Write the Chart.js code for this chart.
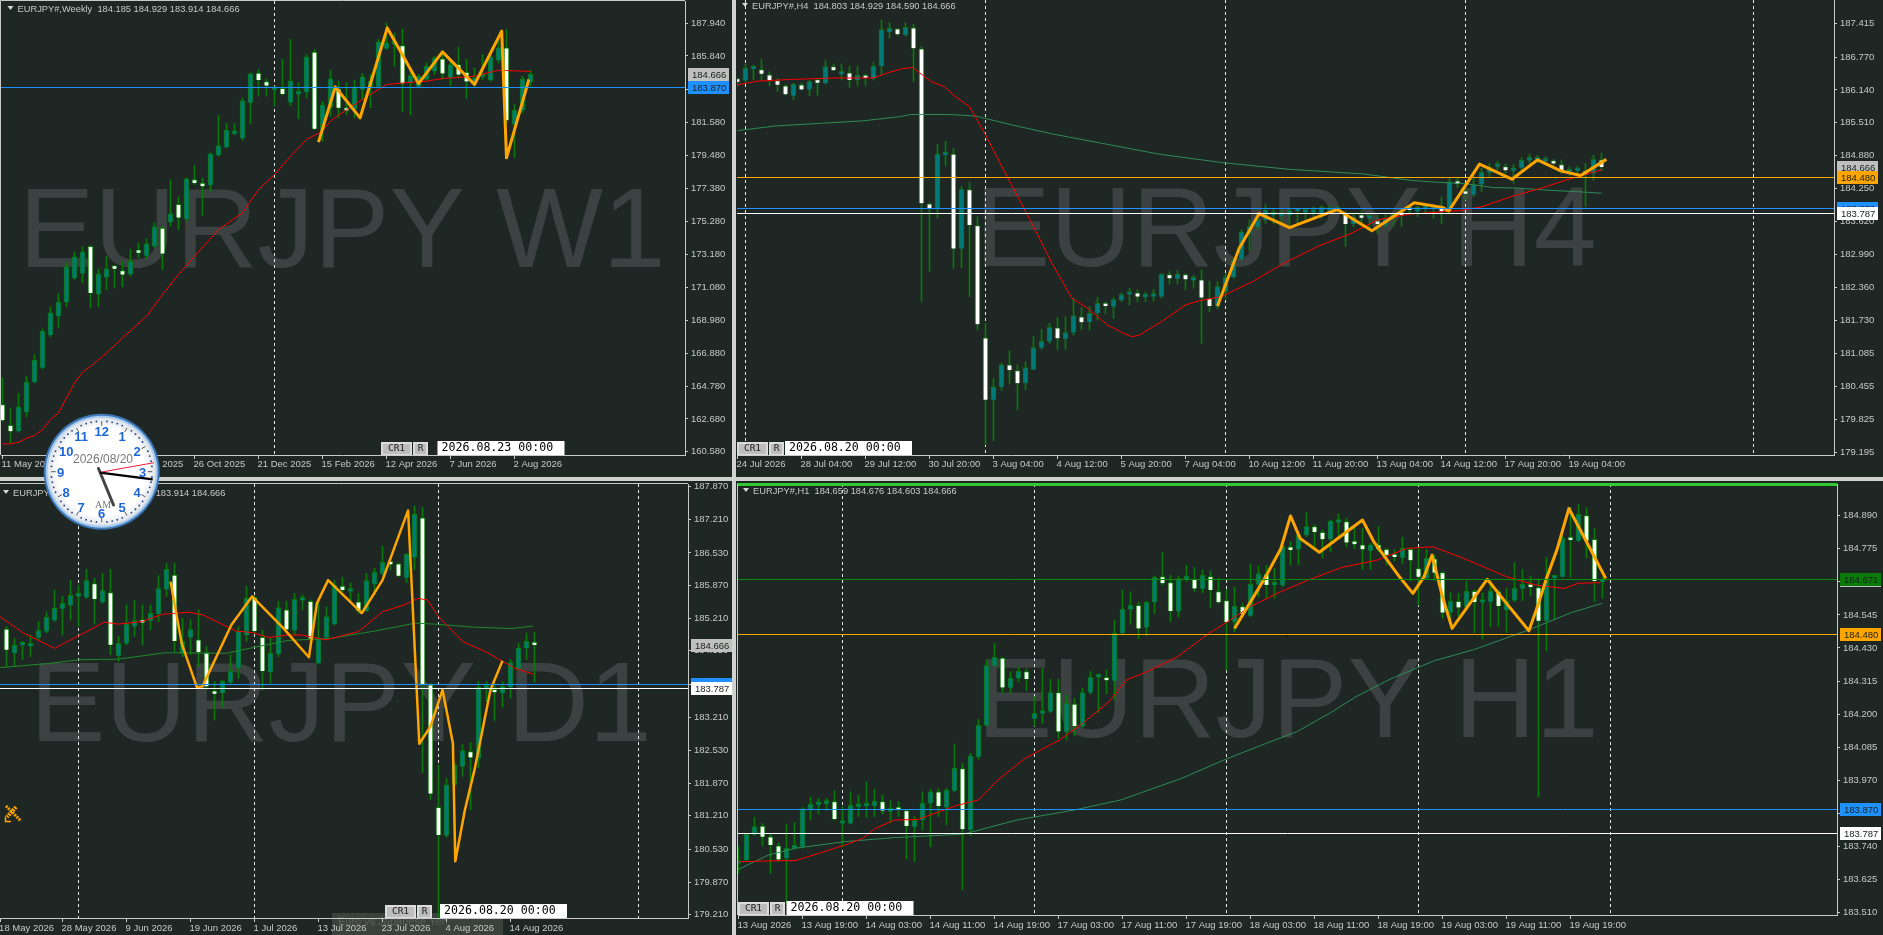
<!DOCTYPE html>
<html>
<head>
<meta charset="utf-8">
<title>EURJPY</title>
<style>
  html, body { margin: 0; padding: 0; background: #1f2724; overflow: hidden; }
  body { width: 1883px; height: 935px; position: relative; }
  canvas { position: absolute; display: block; }
  .band { position: absolute; background: #cfd2cf; }
  #clock { position: absolute; left: 0; top: 0; pointer-events: none; }
</style>
<script src="https://cdn.jsdelivr.net/npm/chart.js@4"></script>
</head>
<body>
<div class="band" style="left:732px;top:0;width:4px;height:935px"></div>
<div class="band" style="left:0;top:477px;width:1883px;height:4px"></div>
<canvas id="weekly" style="left:0;top:0"></canvas>
<canvas id="h4" style="left:736px;top:0"></canvas>
<canvas id="daily" style="left:0;top:482px"></canvas>
<canvas id="h1" style="left:737px;top:482px"></canvas>
<svg id="clock" width="1883" height="935"></svg>
<script>
// ---- weekly ----
const weeklyOpen = [163.60,162.28,161.90,163.11,165.04,165.94,168.02,169.23,170.13,171.66,171.96,173.70,170.64,171.72,172.36,172.15,171.91,173.45,173.10,173.70,174.85,175.23,176.38,175.44,177.95,177.59,177.59,179.51,180.02,180.87,180.59,182.85,184.74,184.21,183.68,183.78,182.87,183.40,183.53,186.08,181.14,182.53,183.74,182.51,182.42,183.70,183.80,183.87,186.31,186.57,186.50,184.12,183.87,184.34,184.87,185.65,184.44,185.29,184.80,184.02,184.51,184.29,185.57,186.36,181.46,182.38,184.185];
const weeklyHigh = [165.30,163.38,164.30,165.40,166.79,168.43,169.83,170.68,172.64,173.32,173.66,173.74,172.25,173.06,172.47,172.74,173.49,173.91,174.17,175.19,174.98,177.95,176.85,178.08,178.85,178.06,179.66,182.04,181.53,181.53,183.17,184.76,184.97,184.38,183.87,185.61,186.89,184.12,185.93,186.25,182.95,184.93,184.23,184.12,184.29,184.72,184.65,186.89,187.95,187.31,187.57,185.08,184.65,185.40,185.82,186.14,185.51,186.40,185.61,185.08,185.93,185.93,187.10,187.53,182.74,184.55,184.929];
const weeklyLow = [162.53,161.15,161.85,162.81,164.98,165.87,167.91,168.49,169.83,171.57,171.36,169.77,169.83,170.94,171.04,171.11,171.79,172.96,172.89,173.59,172.21,174.98,174.76,175.30,177.63,175.66,177.21,179.44,179.97,180.83,180.46,181.53,183.27,183.27,182.63,183.34,182.68,181.83,183.17,181.14,180.40,182.00,181.89,182.10,181.89,183.06,182.53,183.80,186.25,185.19,182.31,182.06,183.80,184.23,184.65,184.34,183.95,184.44,183.14,183.91,184.34,184.23,185.40,181.57,179.34,182.21,183.914];
const weeklyClose = [162.60,161.90,163.45,165.04,166.43,168.28,169.45,170.13,172.38,173.02,173.34,170.72,171.94,172.25,172.27,171.89,172.74,173.28,173.85,174.93,173.23,175.76,175.53,178.00,177.74,177.53,179.59,180.12,181.10,180.93,182.97,184.70,184.31,183.95,183.74,183.42,184.25,183.48,185.78,181.19,182.72,184.38,182.53,182.36,183.80,184.51,184.23,186.74,186.68,186.78,184.08,184.59,184.55,185.19,185.72,184.72,185.29,184.65,184.21,184.44,184.65,185.78,186.36,181.74,182.38,184.38,184.666];
const weeklyRedBars = [0,1,2,3,4,5,6,7,8,9,10,11,13,15,18,20,22,24,27,30,32,34,36,38,40,41,43,45,46,48,50,53,55,59,62,63,66];
const weeklyRedValues = [161.09,161.09,161.19,161.45,161.62,162.00,162.64,163.07,164.02,164.98,165.66,166.04,166.89,167.85,169.23,170.62,171.89,173.06,174.76,175.83,177.32,178.27,179.44,180.51,181.04,181.68,182.42,183.06,183.38,184.02,184.12,184.23,184.40,184.55,184.93,184.91,184.85];
const weeklyZigBars = [39.5,41.6,44.7,48.1,52,55,59,62.4,63,65.8];
const weeklyZigValues = [180.34,183.87,181.89,187.63,184.08,186.10,184.02,187.42,179.34,184.34];
const weeklyPriceTicks = [187.94,185.84,183.68,181.58,179.48,177.38,175.28,173.18,171.08,168.98,166.88,164.78,162.68,160.58];
const weeklyTimeBars = [0,8,16,24,32,40,48,56,64];
const weeklyTimeLabels = ["11 May 2025","6 Jul 2025","31 Aug 2025","26 Oct 2025","21 Dec 2025","15 Feb 2026","12 Apr 2026","7 Jun 2026","2 Aug 2026"];
const weeklySeparators = [34];

// ---- H4 ----
const h4Open = [186.33,186.32,186.54,186.53,186.43,186.32,186.22,186.03,186.24,186.15,186.30,186.27,186.59,186.44,186.47,186.33,186.41,186.36,186.60,187.25,187.31,187.20,187.33,186.93,183.96,183.87,184.89,184.91,183.10,184.23,183.54,181.39,180.20,180.45,180.87,180.76,180.52,180.78,181.20,181.32,181.58,181.37,181.49,181.79,181.69,181.86,182.04,181.99,182.11,182.22,182.25,182.17,182.18,182.18,182.60,182.52,182.60,182.49,182.50,182.14,181.99,182.27,182.55,182.89,183.39,183.52,183.65,183.74,183.72,183.74,183.82,183.79,183.79,183.77,183.83,183.84,183.76,183.57,183.72,183.68,183.63,183.55,183.70,183.79,183.87,183.81,183.88,183.85,183.90,183.83,184.39,184.17,184.13,184.33,184.56,184.67,184.67,184.59,184.65,184.79,184.79,184.77,184.77,184.71,184.56,184.59,184.59,184.54,184.803];
const h4High = [186.36,186.64,186.62,186.73,186.49,186.36,186.24,186.27,186.27,186.33,186.33,186.70,186.64,186.64,186.60,186.59,186.45,186.67,187.48,187.43,187.32,187.43,187.40,186.97,183.97,185.10,185.16,185.02,184.29,184.37,183.71,181.67,180.61,180.90,181.14,180.87,180.93,181.42,181.55,181.67,181.78,181.79,182.15,181.97,181.99,182.17,182.08,182.16,182.25,182.34,182.31,182.27,182.32,182.62,182.66,182.68,182.62,182.59,182.69,182.48,182.47,182.62,182.91,183.46,183.65,183.77,183.94,183.87,183.84,183.87,183.87,183.87,183.90,183.92,183.92,183.89,183.81,183.77,183.83,183.77,183.74,183.77,183.77,183.87,183.92,183.92,183.94,183.92,184.09,184.45,184.45,184.35,184.48,184.64,184.73,184.77,184.72,184.72,184.85,184.91,184.89,184.87,184.81,184.80,184.67,184.68,184.73,184.89,184.929];
const h4Low = [186.22,186.27,186.33,186.33,186.22,186.11,186.04,185.96,186.14,186.03,186.04,186.25,186.51,186.33,186.19,186.22,186.22,186.33,186.43,187.13,187.19,187.17,186.30,182.08,182.66,183.68,184.69,182.72,182.73,182.18,181.54,179.34,179.42,180.38,180.50,180.01,180.39,180.77,181.17,181.28,181.16,181.17,181.44,181.55,181.54,181.73,181.85,181.76,182.08,182.02,182.08,182.08,182.09,182.15,182.42,182.42,182.31,182.34,181.28,181.89,181.95,182.15,182.53,182.88,183.06,183.46,183.58,183.58,183.58,183.52,183.58,183.65,183.71,183.68,183.77,183.81,183.14,183.52,183.57,183.46,183.39,183.52,183.53,183.53,183.77,183.71,183.77,183.68,183.58,183.80,184.27,184.03,184.10,184.19,184.47,184.61,184.55,184.35,184.61,184.73,184.75,184.70,184.69,184.54,184.49,184.48,183.90,184.41,184.590];
const h4Close = [186.30,186.56,186.56,186.45,186.33,186.24,186.06,186.25,186.15,186.30,186.28,186.59,186.52,186.48,186.33,186.42,186.37,186.60,187.30,187.32,187.21,187.34,186.94,183.97,183.87,184.91,184.91,183.10,184.24,183.55,181.65,180.20,180.45,180.87,180.77,180.52,180.82,181.20,181.32,181.59,181.38,181.49,181.81,181.69,181.86,182.05,182.00,182.12,182.22,182.26,182.18,182.18,182.19,182.61,182.53,182.61,182.51,182.50,182.16,182.00,182.37,182.55,182.88,183.42,183.52,183.65,183.84,183.76,183.76,183.83,183.84,183.81,183.81,183.89,183.87,183.85,183.57,183.71,183.69,183.70,183.57,183.68,183.71,183.74,183.84,183.89,183.90,183.87,183.81,184.38,184.34,184.15,184.32,184.56,184.66,184.68,184.60,184.65,184.79,184.83,184.83,184.79,184.73,184.59,184.57,184.60,184.53,184.81,184.666];
const h4RedBars = [0,2.5,6.4,12,17,18.6,20.6,21.9,23.1,24.2,25.9,27,29,30.9,33.7,37,39.3,41.8,43.8,46.3,48.2,49.3,50.2,53,56,57.7,60.5,64.4,68.3,72.8,76.7,80,84,90.4,93,96.8,100.5,103.7,108];
const h4RedValues = [186.24,186.31,186.34,186.37,186.37,186.46,186.55,186.57,186.43,186.30,186.20,186.04,185.82,185.31,184.48,183.52,182.82,182.15,181.95,181.63,181.48,181.41,181.44,181.70,182.02,182.10,182.18,182.47,182.82,183.16,183.39,183.65,183.76,183.83,183.90,184.10,184.26,184.42,184.61];
const h4GreenBars = [0,4.7,10.3,15.8,20.3,21.7,26.4,29.8,34.3,39.3,46.5,52.7,60.5,68.9,78.3,84,86.6,91.2,94.5,97.5,101.2,105,108];
const h4GreenValues = [185.36,185.45,185.50,185.55,185.63,185.67,185.67,185.64,185.47,185.30,185.09,184.91,184.75,184.62,184.53,184.41,184.38,184.34,184.27,184.26,184.22,184.19,184.16];
const h4ZigBars = [60,62.7,65.2,69,75,79.3,84.6,88.1,88.9,92.75,96.8,100,102.9,105.4,108.6];
const h4ZigValues = [182.00,183.10,183.77,183.50,183.85,183.44,183.98,183.89,183.82,184.72,184.43,184.80,184.59,184.50,184.81];
const h4PriceTicks = [187.415,186.77,186.14,185.51,184.88,184.25,183.62,182.99,182.36,181.73,181.085,180.455,179.825,179.195];
const h4TimeBars = [0,8,16,24,32,40,48,56,64,72,80,88,96,104];
const h4TimeLabels = ["24 Jul 2026","28 Jul 04:00","29 Jul 12:00","30 Jul 20:00","3 Aug 04:00","4 Aug 12:00","5 Aug 20:00","7 Aug 04:00","10 Aug 12:00","11 Aug 20:00","13 Aug 04:00","14 Aug 12:00","17 Aug 20:00","19 Aug 04:00"];
const h4Separators = [1,31,61,91,127];

// ---- daily ----
const dailyOpen = [184.99,184.50,184.66,184.64,184.82,184.94,185.17,185.40,185.47,185.65,185.63,185.91,185.53,185.73,184.45,184.70,185.04,185.16,185.16,185.30,185.79,186.08,184.50,184.82,184.77,184.51,183.71,183.69,183.91,184.21,184.87,185.63,184.82,184.12,184.48,185.38,184.96,185.57,185.55,184.30,184.82,185.09,185.86,185.75,185.54,185.36,185.90,186.11,186.33,186.31,186.03,186.44,187.24,183.86,181.38,180.81,181.84,182.21,182.51,182.37,183.79,183.75,183.69,183.81,184.19,184.60,184.69];
const dailyHigh = [185.04,184.80,184.74,184.87,185.14,185.34,185.78,185.65,185.98,185.88,186.20,186.02,186.12,186.20,184.84,185.48,185.57,185.48,185.48,186.07,186.32,186.32,185.21,185.18,185.38,184.64,183.93,183.95,184.47,185.04,185.86,185.66,184.97,184.80,185.55,185.55,185.71,185.68,185.58,185.55,185.44,185.98,186.04,185.92,185.71,186.12,186.22,186.67,186.46,186.33,186.52,187.48,187.45,183.89,182.24,181.97,182.28,182.65,182.69,183.93,183.93,183.89,183.93,184.37,184.70,184.91,184.929];
const dailyLow = [184.23,184.25,184.37,184.43,184.77,184.91,185.14,184.87,185.17,185.04,185.61,185.09,185.51,184.47,184.33,184.67,184.84,184.67,184.97,185.14,185.65,184.53,184.43,184.47,184.23,183.76,183.15,183.41,183.86,183.99,184.74,184.91,183.76,183.89,184.43,184.94,184.87,185.38,184.60,184.28,184.80,185.07,185.75,185.55,185.31,185.34,185.68,186.08,186.19,186.05,185.93,186.19,182.09,181.54,179.14,180.78,181.81,182.01,181.33,182.18,183.52,183.14,183.41,183.59,184.16,184.37,183.914];
const dailyClose = [184.57,184.66,184.67,184.70,184.96,185.23,185.41,185.51,185.67,185.68,185.97,185.60,185.77,184.67,184.70,185.09,185.16,185.12,185.31,185.81,186.20,184.75,184.74,184.98,184.52,183.83,183.68,183.93,184.14,184.95,185.61,184.95,184.14,184.50,185.42,184.99,185.59,185.60,184.80,184.80,185.24,185.88,185.78,185.77,185.36,185.97,186.14,186.34,186.30,186.07,186.50,187.31,183.86,181.66,180.82,181.84,182.24,182.53,182.39,183.81,183.81,183.71,183.83,184.31,184.60,184.74,184.666];
const dailyRedBars = [-0.8,2.1,6,10.4,12.2,13.9,16.9,19.5,22.8,24.5,28.7,30.7,32.8,35.2,36.9,39.9,44,47,49.9,51.4,52.6,54,57,59.9,63.5,65.8];
const dailyRedValues = [185.24,184.91,184.60,184.97,185.13,185.09,185.14,185.29,185.33,185.28,184.95,184.92,184.82,184.87,184.87,184.77,184.94,185.34,185.49,185.61,185.58,185.24,184.74,184.53,184.20,184.08];
const dailyGreenBars = [-0.8,5.1,9.2,13.9,19.8,27.5,30.4,35.2,40.5,46.4,51.1,53.5,58.2,63.2,65.8];
const dailyGreenValues = [184.21,184.29,184.37,184.38,184.51,184.50,184.60,184.76,184.80,184.96,185.11,185.09,185.03,185.00,185.05];
const dailyZigBars = [20.5,21.9,23.8,24.5,28.1,30.7,34.6,37.8,38.8,40.2,44.4,47,50.2,51.6,53,54.5,55.8,56.1,57.3,58.5,60.5,62];
const dailyZigValues = [185.95,184.70,183.81,183.83,185.07,185.65,185.01,184.42,185.51,185.98,185.31,185.98,187.39,182.67,183.02,183.76,182.68,180.29,181.33,182.14,183.76,184.35];
const dailyPriceTicks = [187.87,187.21,186.53,185.87,185.21,184.55,183.87,183.21,182.53,181.87,181.21,180.53,179.87,179.21];
const dailyTimeBars = [-0.8,7,15,23,31,39,47,55,63];
const dailyTimeLabels = ["18 May 2026","28 May 2026","9 Jun 2026","19 Jun 2026","1 Jul 2026","13 Jul 2026","23 Jul 2026","4 Aug 2026","14 Aug 2026"];
const dailySeparators = [9,31,54,79];

// ---- H1 ----
const h1Open = [183.681,183.693,183.782,183.811,183.774,183.742,183.699,183.734,183.739,183.866,183.885,183.889,183.896,183.820,183.820,183.878,183.881,183.882,183.896,183.862,183.870,183.865,183.809,183.832,183.890,183.930,183.876,183.934,184.011,183.797,184.052,184.161,184.369,184.395,184.292,184.325,184.348,184.184,184.202,184.209,184.275,184.138,184.235,184.157,184.275,184.328,184.327,184.316,184.481,184.564,184.578,184.501,184.589,184.678,184.657,184.557,184.670,184.669,184.636,184.678,184.626,184.595,184.521,184.574,184.542,184.651,184.687,184.648,184.648,184.782,184.773,184.822,184.852,184.832,184.808,184.866,184.869,184.796,184.789,184.768,184.789,184.773,184.754,184.744,184.773,184.706,184.672,184.740,184.692,184.553,184.592,184.571,184.627,184.588,184.591,184.626,184.562,184.595,184.636,184.647,184.640,184.525,184.672,184.678,184.810,184.803,184.890,184.808,184.659];
const h1High = [183.739,183.786,183.841,183.820,183.783,183.753,183.818,183.823,183.876,183.913,183.907,183.907,183.934,183.878,183.930,183.919,183.965,183.939,183.919,183.899,183.896,183.869,183.844,183.930,183.939,183.942,183.942,184.096,184.029,184.064,184.182,184.388,184.446,184.398,184.348,184.363,184.356,184.261,184.359,184.321,184.321,184.267,184.255,184.290,184.348,184.340,184.353,184.527,184.632,184.626,184.590,184.593,184.680,184.763,184.683,184.680,184.718,184.710,184.701,184.698,184.672,184.634,184.641,184.585,184.722,184.715,184.718,184.707,184.788,184.800,184.829,184.902,184.858,184.840,184.875,184.896,184.881,184.858,184.846,184.794,184.852,184.776,184.771,184.815,184.776,184.776,184.773,184.753,184.695,184.622,184.620,184.661,184.632,184.622,184.661,184.632,184.637,184.727,184.703,184.680,184.672,184.745,184.680,184.819,184.919,184.930,184.918,184.846,184.676];
const h1Low = [183.647,183.691,183.779,183.742,183.647,183.687,183.542,183.730,183.734,183.832,183.853,183.865,183.832,183.739,183.818,183.844,183.841,183.844,183.853,183.823,183.844,183.696,183.687,183.797,183.739,183.844,183.815,183.930,183.589,183.778,184.043,184.159,184.365,184.275,184.272,184.313,184.282,184.159,184.168,184.205,184.116,184.110,184.124,184.154,184.270,184.205,184.270,184.249,184.475,184.513,184.462,184.473,184.550,184.649,184.521,184.537,184.661,184.626,184.622,184.570,184.585,184.353,184.487,184.541,184.539,184.608,184.603,184.603,184.643,184.718,184.720,184.817,184.782,184.742,184.765,184.808,184.782,184.776,184.703,184.703,184.765,184.718,184.733,184.724,184.664,184.579,184.669,184.664,184.533,184.513,184.539,184.568,184.483,184.461,184.504,184.506,184.484,184.591,184.595,184.611,183.913,184.420,184.530,184.676,184.676,184.800,184.742,184.591,184.603];
const h1Close = [183.691,183.782,183.809,183.774,183.745,183.695,183.734,183.739,183.871,183.887,183.890,183.895,183.836,183.823,183.883,183.883,183.883,183.897,183.865,183.869,183.867,183.811,183.832,183.890,183.930,183.881,183.936,184.012,183.800,184.055,184.161,184.369,184.398,184.293,184.325,184.349,184.322,184.203,184.209,184.275,184.140,184.238,184.159,184.275,184.328,184.333,184.318,184.481,184.564,184.578,184.498,184.589,184.676,184.655,184.559,184.671,184.672,184.637,184.683,184.632,184.589,184.520,184.575,184.548,184.651,184.689,184.649,184.651,184.783,184.771,184.822,184.852,184.833,184.808,184.871,184.871,184.797,184.791,184.773,184.789,184.773,184.754,184.746,184.776,184.735,184.678,184.742,184.692,184.553,184.592,184.571,184.627,184.590,184.590,184.627,184.576,184.595,184.637,184.651,184.642,184.525,184.671,184.677,184.811,184.805,184.895,184.803,184.663,184.666];
const h1RedBars = [0,5.2,7.1,10,13.3,15.5,17.1,19.5,22.4,27.2,30,32.4,35.8,40.1,43,46.3,48.5,51.1,54.9,58.8,61.1,64,67.8,71.2,75.4,79.9,83.5,86.8,90.6,96,99.6,103.2,105,107.7];
const h1RedValues = [183.687,183.691,183.691,183.716,183.745,183.768,183.803,183.832,183.834,183.882,183.902,183.971,184.046,184.110,184.168,184.243,184.319,184.348,184.400,184.481,184.521,184.574,184.626,184.666,184.710,184.736,184.776,184.782,184.742,184.678,184.649,184.637,184.655,184.657];
const h1GreenBars = [0,3.7,7.1,13.3,19.5,28.1,34.8,42,47.8,55.4,60.7,65.9,69.8,74,77.2,81.7,87,92,98.7,104.1,107.9];
const h1GreenValues = [183.661,183.710,183.734,183.757,183.771,183.783,183.832,183.867,183.902,183.977,184.041,184.098,184.139,184.205,184.261,184.325,184.386,184.425,184.492,184.553,184.585];
const h1ZigBars = [62,65.9,67.8,69,70.2,72.6,78,79.4,82.6,84.3,85.7,86.7,88,89.2,93.6,96,98.8,100,101,102.3,103.8,106.1,108.4];
const h1ZigValues = [184.498,184.678,184.776,184.889,184.811,184.763,184.875,184.800,184.678,184.620,184.678,184.753,184.608,184.498,184.669,184.585,184.490,184.585,184.672,184.771,184.915,184.794,184.672];
const h1PriceTicks = [184.89,184.775,184.66,184.545,184.43,184.315,184.2,184.085,183.97,183.855,183.74,183.625,183.51];
const h1TimeBars = [0,8,16,24,32,40,48,56,64,72,80,88,96,104];
const h1TimeLabels = ["13 Aug 2026","13 Aug 19:00","14 Aug 03:00","14 Aug 11:00","14 Aug 19:00","17 Aug 03:00","17 Aug 11:00","17 Aug 19:00","18 Aug 03:00","18 Aug 11:00","18 Aug 19:00","19 Aug 03:00","19 Aug 11:00","19 Aug 19:00"];
const h1Separators = [13,37,61,85,109];

const AXIS = '#c8cac8';
const BLUE = '#1e90ff', ORANGE = '#ffa500', WHITE = '#ffffff', GREY = '#c0c0c0';
const FONT = '"Liberation Sans"';

function pts(bars, values) {
    return bars.map((b, i) => ({ x: b, y: values[i] }));
}

function lineSet(bars, values, color, width, order) {
    return { type: 'line', data: pts(bars, values), borderColor: color, borderWidth: width, pointRadius: 0, tension: 0, borderJoinStyle: 'round', order: order };
}

function drawPane(p) {
    const canvas = document.getElementById(p.id);
    canvas.width = p.width;
    canvas.height = p.height;

    const plotLeft = p.padLeft, plotRight = p.width - p.axisW;
    const xMin = (plotLeft - p.firstBar) / 8, xMax = (plotRight - p.firstBar) / 8;
    const idx = p.open.map((v, i) => i);
    const bodyFill = idx.map(i => p.close[i] >= p.open[i] ? '#007a78' : '#ffffff');

    const datasets = [
        { type: 'bar', data: idx.map(i => ({ x: i, y: [p.low[i], p.high[i]] })), backgroundColor: '#0a780a',
          grouped: false, maxBarThickness: 1, barPercentage: 1, categoryPercentage: 1, order: 6 },
        { type: 'bar', data: idx.map(i => ({ x: i, y: [p.open[i], p.close[i]] })), backgroundColor: bodyFill,
          borderColor: '#0a780a', borderWidth: 1, minBarLength: 3,
          grouped: false, maxBarThickness: 5, barPercentage: 1, categoryPercentage: 1, order: 5 },
        lineSet(p.redBars, p.redValues, '#ff0000', 1, 3),
        lineSet(p.zigBars, p.zigValues, ORANGE, p.zigWidth, 1)
    ];
    if (p.greenBars) datasets.push(lineSet(p.greenBars, p.greenValues, p.greenColor, 1, 4));

    const overlay = {
        id: 'overlay',
        beforeDraw(chart) {
            const c = chart.ctx;
            if (p.ghost) {
                c.save();
                c.fillStyle = '#3b423e';
                c.fillRect(p.ghost.x - p.left, p.ghost.y - p.top, 171, 22);
                c.font = '11px ' + FONT;
                c.fillStyle = '#59605c';
                c.fillText('Euro vs Japanese Yen', p.ghost.x - p.left + 6, p.ghost.y - p.top + 12);
                c.restore();
            }
        },
        beforeDatasetsDraw(chart) {
            const c = chart.ctx, a = chart.chartArea, sx = chart.scales.x;
            c.save();
            c.font = '113px ' + FONT;
            c.fillStyle = '#3c4241';
            c.textBaseline = 'alphabetic';
            c.fillText(p.watermark, p.markX - p.left, p.markY - p.top);
            c.strokeStyle = '#e6e8e6';
            c.lineWidth = 1;
            c.setLineDash([3, 3]);
            p.separators.forEach(s => {
                const x = Math.floor(sx.getPixelForValue(s)) + 0.5;
                c.beginPath();
                c.moveTo(x, a.top);
                c.lineTo(x, a.bottom);
                c.stroke();
            });
            c.restore();
        },
        afterDatasetsDraw(chart) {
            const c = chart.ctx, a = chart.chartArea, sy = chart.scales.y;
            c.save();
            p.levels.forEach(l => {
                const y = Math.round(sy.getPixelForValue(l.value)) + 0.5;
                c.strokeStyle = l.color;
                c.lineWidth = 1;
                c.beginPath();
                c.moveTo(a.left, y);
                c.lineTo(a.right, y);
                c.stroke();
            });
            c.restore();
        },
        afterDraw(chart) {
            const c = chart.ctx, a = chart.chartArea, sy = chart.scales.y;
            c.save();
            // frame bits the axes do not draw
            c.strokeStyle = AXIS;
            c.lineWidth = 1;
            if (p.frame) {
                c.beginPath();
                c.moveTo(a.left - 0.5, a.bottom);
                c.lineTo(a.left - 0.5, a.top - 0.5);
                c.lineTo(a.right, a.top - 0.5);
                c.stroke();
            }
            if (p.activeBar) {
                c.fillStyle = '#32c832';
                c.fillRect(a.left, a.top - 1, a.right - a.left, 3);
            }
            // price flags
            c.textBaseline = 'middle';
            c.font = '9.5px ' + FONT;
            p.flags.forEach(f => {
                const y = Math.round(sy.getPixelForValue(f.value));
                c.fillStyle = f.color;
                c.fillRect(a.right + 3, y - 6, 41, 13);
                c.fillStyle = '#16201a';
                c.fillText(f.value.toFixed(3), a.right + 7, y + 1);
            });
            // header line
            c.fillStyle = '#d8d8d8';
            c.beginPath();
            c.moveTo(p.headX - 10 - p.left, p.headY - 3 - p.top);
            c.lineTo(p.headX - 4 - p.left, p.headY - 3 - p.top);
            c.lineTo(p.headX - 7 - p.left, p.headY + 1 - p.top);
            c.fill();
            c.fillStyle = '#c8c8c8';
            c.font = '9.3px ' + FONT;
            c.fillText(p.header, p.headX - p.left, p.headY - p.top);
            // CR1 / R / date buttons
            const bx = p.btnX - p.left, by = p.btnY - p.top;
            c.fillStyle = '#dcdcdc';
            c.fillRect(bx, by, 31, 13);
            c.fillRect(bx + 32, by, 15, 13);
            c.fillStyle = '#bdbdbd';
            c.fillRect(bx + 2, by + 2, 27, 10);
            c.fillRect(bx + 34, by + 2, 11, 10);
            c.fillStyle = '#222';
            c.font = '9.5px "DejaVu Sans Mono"';
            c.textAlign = 'center';
            c.fillText('CR1', bx + 15.5, by + 7);
            c.fillText('R', bx + 39.5, by + 7);
            c.textAlign = 'left';
            c.fillStyle = '#ffffff';
            c.fillRect(p.dateX - p.left, by - 1, 127, 14);
            c.fillStyle = '#000';
            c.font = '11.6px "DejaVu Sans Mono"';
            c.fillText(p.stamp, p.dateX - p.left + 4, by + 6);
            c.restore();
        }
    };

    new Chart(canvas, {
        type: 'bar',
        data: { datasets },
        plugins: [overlay],
        options: {
            responsive: false,
            animation: false,
            events: [],
            layout: { padding: { left: p.padLeft, top: p.padTop, right: 0, bottom: 0 } },
            plugins: { legend: { display: false }, tooltip: { enabled: false } },
            scales: {
                x: {
                    type: 'linear', offset: false, min: xMin, max: xMax,
                    grid: { offset: false, drawOnChartArea: false, drawTicks: true, tickLength: 4, color: AXIS },
                    border: { color: AXIS },
                    afterBuildTicks: s => { s.ticks = p.timeBars.map(v => ({ value: v })); },
                    afterFit: s => { s.height = p.axisH; s.paddingLeft = 0; s.paddingRight = 0; },
                    ticks: {
                        autoSkip: false, maxRotation: 0, minRotation: 0, align: 'start', labelOffset: -1, padding: p.labelPad,
                        color: '#c8c8c8', font: { family: FONT, size: 9.5 },
                        callback: v => p.timeLabels[p.timeBars.indexOf(v)]
                    }
                },
                y: {
                    position: 'right', min: p.yMin, max: p.yMax, beginAtZero: false,
                    grid: { drawOnChartArea: false, drawTicks: true, tickLength: 3, color: AXIS },
                    border: { color: AXIS },
                    afterBuildTicks: s => { s.ticks = p.priceTicks.map(v => ({ value: v })); },
                    afterFit: s => { s.width = p.axisW; s.paddingTop = 0; s.paddingBottom = 0; },
                    ticks: {
                        autoSkip: false, padding: 3, color: '#c8c8c8', font: { family: FONT, size: 9.5 },
                        callback: v => v.toFixed(3)
                    }
                }
            }
        }
    });
}

drawPane({
    id: 'weekly', left: 0, top: 0, width: 732, height: 477, padLeft: 1, padTop: 1, axisW: 47, axisH: 22, firstBar: 2.5, labelPad: 0,
    open: weeklyOpen, high: weeklyHigh, low: weeklyLow, close: weeklyClose,
    redBars: weeklyRedBars, redValues: weeklyRedValues, zigBars: weeklyZigBars, zigValues: weeklyZigValues, zigWidth: 3,
    priceTicks: weeklyPriceTicks, timeBars: weeklyTimeBars, timeLabels: weeklyTimeLabels, separators: weeklySeparators,
    yMin: 160.38, yMax: 189.346, frame: true,
    levels: [{ value: 183.87, color: BLUE }],
    flags: [{ value: 184.666, color: GREY }, { value: 183.87, color: BLUE }],
    watermark: 'EURJPY W1', markX: 19, markY: 267,
    header: 'EURJPY#,Weekly  184.185 184.929 183.914 184.666', headX: 17.5, headY: 9,
    btnX: 381, btnY: 442, dateX: 437.5, stamp: '2026.08.23 00:00'
});

drawPane({
    id: 'h4', left: 736, top: 0, width: 1144, height: 477, padLeft: 1, padTop: 0, axisW: 46, axisH: 22, firstBar: 1.5, labelPad: 0,
    open: h4Open, high: h4High, low: h4Low, close: h4Close,
    redBars: h4RedBars, redValues: h4RedValues, zigBars: h4ZigBars, zigValues: h4ZigValues, zigWidth: 3,
    greenBars: h4GreenBars, greenValues: h4GreenValues, greenColor: '#2e8b57',
    priceTicks: h4PriceTicks, timeBars: h4TimeBars, timeLabels: h4TimeLabels, separators: h4Separators,
    yMin: 179.143, yMax: 187.865,
    levels: [{ value: 184.48, color: ORANGE }, { value: 183.87, color: BLUE }, { value: 183.787, color: WHITE }],
    flags: [{ value: 184.666, color: GREY }, { value: 184.48, color: ORANGE }, { value: 183.87, color: BLUE }, { value: 183.787, color: WHITE }],
    watermark: 'EURJPY H4', markX: 975, markY: 266,
    header: 'EURJPY#,H4  184.803 184.929 184.590 184.666', headX: 752, headY: 6,
    btnX: 737, btnY: 442, dateX: 785, stamp: '2026.08.20 00:00'
});

drawPane({
    id: 'daily', left: 0, top: 482, width: 732, height: 453, padLeft: 0, padTop: 2, axisW: 44, axisH: 17, firstBar: 6.5, labelPad: 1,
    open: dailyOpen, high: dailyHigh, low: dailyLow, close: dailyClose,
    redBars: dailyRedBars, redValues: dailyRedValues, zigBars: dailyZigBars, zigValues: dailyZigValues, zigWidth: 2.5,
    greenBars: dailyGreenBars, greenValues: dailyGreenValues, greenColor: '#1f8a2b',
    priceTicks: dailyPriceTicks, timeBars: dailyTimeBars, timeLabels: dailyTimeLabels, separators: dailySeparators,
    yMin: 179.143, yMax: 187.925, frame: true, ghost: { x: 332, y: 913 },
    levels: [{ value: 183.87, color: BLUE }, { value: 183.787, color: WHITE }],
    flags: [{ value: 184.666, color: GREY }, { value: 183.87, color: BLUE }, { value: 183.787, color: WHITE }],
    watermark: 'EURJPY D1', markX: 30, markY: 741,
    header: 'EURJPY#,Daily  184.690 184.929 183.914 184.666', headX: 13, headY: 493,
    btnX: 385, btnY: 905, dateX: 440, stamp: '2026.08.20 00:00'
});

drawPane({
    id: 'h1', left: 737, top: 482, width: 1146, height: 453, padLeft: 1, padTop: 2, axisW: 46, axisH: 20, firstBar: 1.5, labelPad: 1,
    open: h1Open, high: h1High, low: h1Low, close: h1Close,
    redBars: h1RedBars, redValues: h1RedValues, zigBars: h1ZigBars, zigValues: h1ZigValues, zigWidth: 3,
    greenBars: h1GreenBars, greenValues: h1GreenValues, greenColor: '#2e8b57',
    priceTicks: h1PriceTicks, timeBars: h1TimeBars, timeLabels: h1TimeLabels, separators: h1Separators,
    yMin: 183.502, yMax: 185.0, frame: true, activeBar: true,
    levels: [{ value: 184.671, color: '#0a8a0a' }, { value: 184.48, color: ORANGE }, { value: 183.87, color: BLUE }, { value: 183.787, color: WHITE }],
    flags: [{ value: 184.666, color: GREY }, { value: 184.671, color: '#0a7a0a' }, { value: 184.48, color: ORANGE }, { value: 183.87, color: BLUE }, { value: 183.787, color: WHITE }],
    watermark: 'EURJPY H1', markX: 977, markY: 737,
    header: 'EURJPY#,H1  184.659 184.676 184.603 184.666', headX: 753, headY: 491,
    btnX: 738, btnY: 902, dateX: 786.5, stamp: '2026.08.20 00:00'
});

// desktop clock widget that sits over the charts
(function () {
    const cx = 101.7, cy = 471.7;
    let s = '<defs><radialGradient id="face" cx="50%" cy="50%" r="50%"><stop offset="82%" stop-color="#ffffff"/><stop offset="100%" stop-color="#dfe3e8"/></radialGradient></defs>';
    s += `<circle cx="${cx}" cy="${cy}" r="58" fill="#3f78b8"/><circle cx="${cx}" cy="${cy}" r="56" fill="#a8cdf0"/><circle cx="${cx}" cy="${cy}" r="54" fill="url(#face)"/>`;
    for (let m = 0; m < 60; m++) {
        const a = m * Math.PI / 30;
        const sx = cx + 50.5 * Math.sin(a), sy = cy - 50.5 * Math.cos(a);
        if (m % 5 === 0) {
            const ex = cx + 46 * Math.sin(a), ey = cy - 46 * Math.cos(a);
            s += `<line x1="${sx}" y1="${sy}" x2="${ex}" y2="${ey}" stroke="#555" stroke-width="1"/>`;
        } else {
            s += `<circle cx="${sx}" cy="${sy}" r="0.9" fill="#1c3f86"/>`;
        }
    }
    for (let h = 1; h <= 12; h++) {
        const a = h * Math.PI / 6;
        s += `<text x="${cx + 41 * Math.sin(a)}" y="${cy - 41 * Math.cos(a) + 5}" text-anchor="middle" font-family="Liberation Sans" font-weight="bold" font-size="13" fill="#1c66d6">${h}</text>`;
    }
    s += `<text x="103" y="463" text-anchor="middle" font-family="Liberation Sans" font-size="12" fill="#777">2026/08/20</text>`;
    s += `<text x="103" y="508" text-anchor="middle" font-family="Liberation Serif" font-size="10" fill="#777">AM</text>`;
    s += `<line x1="98.5" y1="468.5" x2="113.5" y2="505" stroke="#444" stroke-width="3" stroke-linecap="round"/>`;
    s += `<line x1="100" y1="472.7" x2="152.7" y2="479.3" stroke="#000" stroke-width="2.2"/>`;
    s += `<line x1="101.7" y1="472" x2="154" y2="462.7" stroke="#f02040" stroke-width="1"/>`;
    // object marker at the left edge of the daily chart
    s += `<g stroke="#ffa500" fill="none"><line x1="6" y1="806" x2="21" y2="821" stroke-width="3" stroke-dasharray="2 1"/><line x1="16" y1="807" x2="7" y2="817" stroke-width="4" stroke-dasharray="2 1"/><path d="M5.5 816.5 L5.5 821.5 L11 821.5" stroke-width="1.5"/></g>`;
    document.getElementById('clock').innerHTML = s;
})();
</script>
</body>
</html>
